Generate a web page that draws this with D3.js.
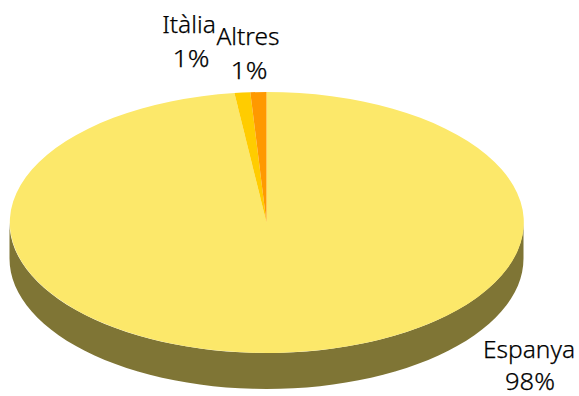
<!DOCTYPE html>
<html><head><meta charset="utf-8">
<style>html,body{margin:0;padding:0;background:#fff}svg{display:block}</style>
<script src="https://cdn.jsdelivr.net/npm/d3@7"></script></head>
<body><svg id="c" width="579" height="396"></svg>
<script>
const categories = ["Espanya","Itàlia","Altres"];
const values = [98,1,1];
const percentLabels = ["98%","1%","1%"];
const topColors = ["#FCE86A","#FFCC00","#FF9900"];
const sideColor = "#7F7535";

const cx=266.5, cy=222.5, rx=257, ry=130.5, depth=36;
const svg=d3.select("#c");
const pie=d3.pie().sort(null).value(d=>d)(values);
const arc=d3.arc().innerRadius(0).outerRadius(1);
const proj=d3.scaleLinear().domain([-1,1]).range([cx-rx,cx+rx]);

const t=d3.range(90,271,3).map(a=>a*Math.PI/180);
const wall=d3.area()
  .x(a=>proj(Math.sin(a)))
  .y0(a=>cy-ry*Math.cos(a))
  .y1(a=>cy-ry*Math.cos(a)+depth);
svg.append("path").attr("d",wall(t)).attr("fill",sideColor);

const g=svg.append("g").attr("transform",`translate(${cx},${cy}) scale(${rx},${ry})`);
g.selectAll("path").data(pie).join("path")
  .attr("d",arc).attr("fill",(d,i)=>topColors[i]);

const namePos=[[529,358],[189,33],[248,45]];
const pctPos=[[530,390],[191,67],[249,79]];
const pctWidth=[50,37,37];
function label(x,y,s,len){
  const n=svg.append("text").attr("text-anchor","middle")
    .attr("font-family",'"Noto Sans",sans-serif').attr("font-weight",300)
    .attr("font-size",24.5).attr("fill","#000")
    .attr("stroke","#000").attr("stroke-width",0.25)
    .attr("x",x).attr("y",y).text(s);
  if(len) n.attr("textLength",len).attr("lengthAdjust","spacingAndGlyphs");
}
categories.forEach((c,i)=>{
  label(namePos[i][0],namePos[i][1],c);
  label(pctPos[i][0],pctPos[i][1],percentLabels[i],pctWidth[i]);
});
</script></body></html>
